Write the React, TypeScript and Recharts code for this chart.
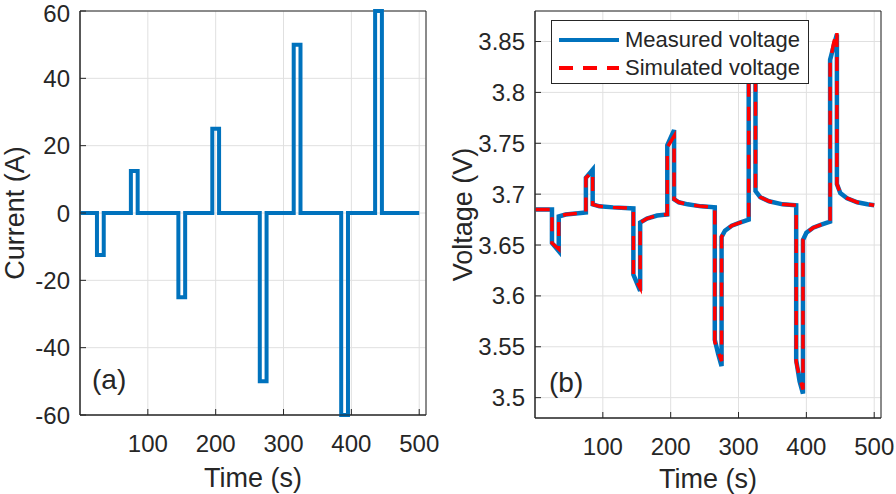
import React from 'react';
import { LineChart, Line, XAxis, YAxis, CartesianGrid, Legend, ReferenceArea } from 'recharts';

const FONT = "'Liberation Sans', Arial, Helvetica, sans-serif";
const INK = '#262626';
const GRID = '#e0e0e0';
const BLUE = '#0072BD';
const RED = '#FF0000';

const timeTicks = [100, 200, 300, 400, 500];
const currentTicks = [-60, -40, -20, 0, 20, 40, 60];
const voltageTicks = [3.5, 3.55, 3.6, 3.65, 3.7, 3.75, 3.8, 3.85];

// current profile (step pulses)
const currentTime = [
  1, 25, 25, 35, 35, 75, 75, 85, 85, 145, 145, 155, 155, 195, 195, 205, 205,
  265, 265, 275, 275, 315, 315, 325, 325, 385, 385, 395, 395, 435, 435, 445, 445, 500,
];
const currentAmps = [
  0, 0, -12.5, -12.5, 0, 0, 12.5, 12.5, 0, 0, -25, -25, 0, 0, 25, 25, 0,
  0, -50, -50, 0, 0, 50, 50, 0, 0, -60, -60, 0, 0, 60, 60, 0, 0,
];

// voltage response
const voltTime = [
  1, 25, 25, 35, 35, 45, 60, 75, 75, 85, 85, 95, 115, 145, 145, 155, 155, 165, 180, 195,
  195, 205, 205, 212, 225, 245, 265, 265, 270, 275, 275, 280, 290, 302, 315, 315, 325,
  325, 332, 345, 365, 385, 385, 390, 395, 395, 400, 410, 422, 435, 435, 440, 445, 445,
  450, 460, 475, 490, 500,
];
const measuredVolt = [
  3.685, 3.685, 3.652, 3.644, 3.678, 3.68, 3.681, 3.682, 3.716, 3.724, 3.69, 3.688, 3.687,
  3.686, 3.621, 3.605, 3.672, 3.676, 3.679, 3.68, 3.748, 3.763, 3.695, 3.692, 3.69, 3.688,
  3.687, 3.557, 3.543, 3.531, 3.658, 3.664, 3.669, 3.672, 3.675, 3.812, 3.83, 3.703, 3.697,
  3.693, 3.69, 3.689, 3.537, 3.516, 3.504, 3.655, 3.662, 3.667, 3.67, 3.673, 3.832, 3.845,
  3.857, 3.71, 3.701, 3.696, 3.692, 3.69, 3.689,
];
const simulatedVolt = [
  3.685, 3.685, 3.652, 3.646, 3.678, 3.68, 3.681, 3.682, 3.716, 3.722, 3.69, 3.688, 3.687,
  3.686, 3.62, 3.608, 3.672, 3.676, 3.679, 3.68, 3.746, 3.757, 3.695, 3.692, 3.69, 3.688,
  3.687, 3.555, 3.545, 3.536, 3.658, 3.664, 3.669, 3.672, 3.675, 3.81, 3.828, 3.703, 3.697,
  3.693, 3.69, 3.689, 3.535, 3.52, 3.508, 3.655, 3.662, 3.667, 3.67, 3.673, 3.83, 3.848,
  3.86, 3.71, 3.701, 3.696, 3.692, 3.69, 3.689,
];

const currentData = currentTime.map((t, i) => ({ t, current: currentAmps[i] }));
const voltageData = voltTime.map((t, i) => ({
  t,
  measured: measuredVolt[i],
  simulated: simulatedVolt[i],
}));

const tickStyle = { fill: INK, fontSize: 24, fontFamily: FONT };
const labelStyle = { fill: INK, fontSize: 27, fontFamily: FONT };

const dashFor: Record<string, string | undefined> = {
  measured: undefined,
  simulated: '14 10',
};

const renderLegend = (props: any) => {
  const payload = props.payload || [];
  return (
    <div
      style={{
        boxSizing: 'border-box',
        width: 258,
        height: 64,
        border: `1px solid ${INK}`,
        background: '#fff',
        paddingTop: 5,
        fontFamily: FONT,
        fontSize: 22,
        color: INK,
      }}
    >
      {payload.map((entry: any) => (
        <div key={entry.value} style={{ display: 'flex', alignItems: 'center', height: 28 }}>
          <svg width={60} height={28} style={{ marginLeft: 7, marginRight: 6 }}>
            <line
              x1={0}
              x2={60}
              y1={14}
              y2={14}
              stroke={entry.color}
              strokeWidth={4}
              strokeDasharray={dashFor[entry.dataKey]}
            />
          </svg>
          <span>{entry.value}</span>
        </div>
      ))}
    </div>
  );
};

const CurrentPanel = () => (
  <LineChart width={448} height={494} data={currentData} margin={{ top: 11, right: 22, bottom: 0, left: 0 }}>
    <CartesianGrid stroke={GRID} />
    <XAxis
      dataKey="t"
      type="number"
      domain={[0, 510]}
      ticks={timeTicks}
      height={79}
      tickSize={-6}
      tickMargin={26}
      stroke={INK}
      tick={tickStyle}
      label={{ value: 'Time (s)', position: 'insideBottom', offset: 7, ...labelStyle }}
    />
    <XAxis xAxisId="top" orientation="top" type="number" domain={[0, 510]} ticks={timeTicks}
      allowDataOverflow height={0} tickSize={-6} tick={false} stroke={INK} />
    <YAxis
      type="number"
      domain={[-60, 60]}
      ticks={currentTicks}
      width={80}
      tickSize={-6}
      tickMargin={16}
      stroke={INK}
      tick={tickStyle}
      label={{ value: 'Current (A)', angle: -90, position: 'insideLeft', offset: 14, ...labelStyle, style: { textAnchor: 'middle' } }}
    />
    <YAxis yAxisId="right" orientation="right" type="number" domain={[-60, 60]} ticks={currentTicks}
      allowDataOverflow width={0} tickSize={-6} tick={false} stroke={INK} />
    <ReferenceArea x1={0} x2={510} y1={-60} y2={60} fill="none" stroke={INK} strokeWidth={1} />
    <Line
      dataKey="current"
      stroke={BLUE}
      strokeWidth={4}
      dot={false}
      activeDot={false}
      isAnimationActive={false}
    />
    <text x={92} y={389} fill={INK} fontSize={28} fontFamily={FONT}>(a)</text>
  </LineChart>
);

const VoltagePanel = () => (
  <LineChart width={448} height={494} data={voltageData} margin={{ top: 11, right: 15, bottom: 0, left: 0 }}>
    <CartesianGrid stroke={GRID} />
    <XAxis
      dataKey="t"
      type="number"
      domain={[0, 510]}
      ticks={timeTicks}
      height={76}
      tickSize={-6}
      tickMargin={26}
      stroke={INK}
      tick={tickStyle}
      label={{ value: 'Time (s)', position: 'insideBottom', offset: 6, ...labelStyle }}
    />
    <XAxis xAxisId="top" orientation="top" type="number" domain={[0, 510]} ticks={timeTicks}
      allowDataOverflow height={0} tickSize={-6} tick={false} stroke={INK} />
    <YAxis
      type="number"
      domain={[3.48, 3.88]}
      ticks={voltageTicks}
      width={87}
      tickSize={-6}
      tickMargin={16}
      stroke={INK}
      tick={tickStyle}
      label={{ value: 'Voltage (V)', angle: -90, position: 'insideLeft', offset: 14, ...labelStyle, style: { textAnchor: 'middle' } }}
    />
    <YAxis yAxisId="right" orientation="right" type="number" domain={[3.48, 3.88]} ticks={voltageTicks}
      allowDataOverflow width={0} tickSize={-6} tick={false} stroke={INK} />
    <ReferenceArea x1={0} x2={510} y1={3.48} y2={3.88} fill="none" stroke={INK} strokeWidth={1} />
    <Line
      name="Measured voltage"
      dataKey="measured"
      stroke={BLUE}
      strokeWidth={4.5}
      dot={false}
      activeDot={false}
      isAnimationActive={false}
    />
    <Line
      name="Simulated voltage"
      dataKey="simulated"
      stroke={RED}
      strokeWidth={3.5}
      strokeDasharray="14 10"
      dot={false}
      activeDot={false}
      isAnimationActive={false}
    />
    <text x={101} y={392} fill={INK} fontSize={28} fontFamily={FONT}>(b)</text>
    <Legend
      layout="vertical"
      align="center"
      verticalAlign="middle"
      content={renderLegend}
      wrapperStyle={{ left: 103, top: 20, width: 258, height: 64 }}
    />
  </LineChart>
);

export default function App() {
  return (
    <div
      style={{
        position: 'absolute',
        left: 0,
        top: 0,
        width: 896,
        height: 494,
        background: '#fff',
        display: 'flex',
      }}
    >
      <CurrentPanel />
      <VoltagePanel />
    </div>
  );
}
